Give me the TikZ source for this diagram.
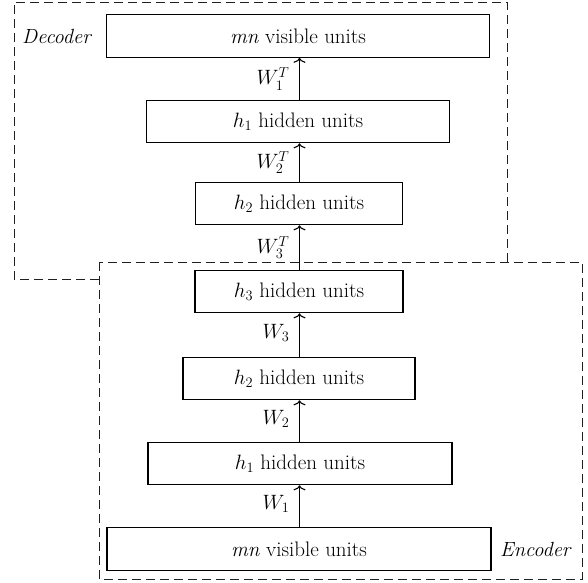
\documentclass[tikz,border=0pt]{standalone}
\usetikzlibrary{arrows.meta}
\begin{document}
\begin{tikzpicture}[x=1pt,y=-1pt,
  unit/.style={draw,line width=1.1pt,rectangle,minimum height=42.5pt,inner sep=0pt,font=\fontsize{21}{25}\selectfont,fill=white},
  wlab/.style={font=\fontsize{21}{25}\selectfont,anchor=east,inner sep=0pt},
  conn/.style={line width=1.1pt,-{To[length=5pt,width=12pt]}},
  grp/.style={line width=1pt,dash pattern=on 9pt off 5pt,gray!25!black},
  glab/.style={font=\fontsize{20.5}{24}\selectfont\itshape,inner sep=0pt}]
\useasboundingbox (0,0) rectangle (588,582);
% group frames
\draw[grp] (99,279) -- (14,279) -- (14,2) -- (507,2) -- (507,262);
\draw[grp] (99,262) rectangle (582,579);
% decoder
\node[unit,minimum width=383pt] (dmn) at (298,36) {\textit{mn} visible units};
\node[unit,minimum width=303pt] (dh1) at (298,121.5) {$h_1$ hidden units};
\node[unit,minimum width=207pt] (dh2) at (299,203.5) {$h_2$ hidden units};
% encoder
\node[unit,minimum width=208pt] (eh3) at (299,291.5) {$h_3$ hidden units};
\node[unit,minimum width=232pt] (eh2) at (299,378.5) {$h_2$ hidden units};
\node[unit,minimum width=304pt] (eh1) at (300,463.5) {$h_1$ hidden units};
\node[unit,minimum width=384pt] (emn) at (299,549) {\textit{mn} visible units};
% labels
\node[glab,anchor=west] (dec) at (22,36) {Decoder};
\node[glab,anchor=west] (enc) at (500,549) {Encoder};
% connectors
\draw[conn] (emn.north -| 299.5,0) -- (eh1.south -| 299.5,0) coordinate[midway] (m1);
\draw[conn] (eh1.north -| 299.5,0) -- (eh2.south -| 299.5,0) coordinate[midway] (m2);
\draw[conn] (eh2.north -| 299.5,0) -- (eh3.south -| 299.5,0) coordinate[midway] (m3);
\draw[conn] (eh3.north -| 299.5,0) -- (dh2.south -| 299.5,0) coordinate[midway] (m4);
\draw[conn] (dh2.north -| 299.5,0) -- (dh1.south -| 299.5,0) coordinate[midway] (m5);
\draw[conn] (dh1.north -| 299.5,0) -- (dmn.south -| 299.5,0) coordinate[midway] (m6);
\node[wlab] at ([xshift=-10pt,yshift=2pt]m1) {$W_1$};
\node[wlab] at ([xshift=-10pt,yshift=2pt]m2) {$W_2$};
\node[wlab] at ([xshift=-10pt,yshift=2pt]m3) {$W_3$};
\node[wlab] at ([xshift=-10pt]m4) {$W_3^T$};
\node[wlab] at ([xshift=-10pt]m5) {$W_2^T$};
\node[wlab] at ([xshift=-10pt]m6) {$W_1^T$};
\end{tikzpicture}
\end{document}
